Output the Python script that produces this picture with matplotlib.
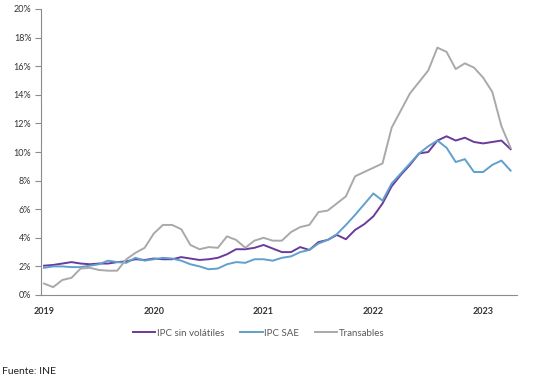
import matplotlib
matplotlib.use("Agg")
import matplotlib.pyplot as plt
from matplotlib.ticker import FuncFormatter

# Monthly data, Jan 2019 .. Apr 2023 (annual % change)
months = list(range(52))
year_ticks = [0, 12, 24, 36, 48]
year_labels = ["2019", "2020", "2021", "2022", "2023"]

ipc_sin_volatiles = [
    2.05, 2.1, 2.2, 2.3, 2.2, 2.15, 2.2, 2.2, 2.3, 2.35, 2.5, 2.45,
    2.55, 2.5, 2.5, 2.65, 2.55, 2.45, 2.5, 2.6, 2.85, 3.2, 3.2, 3.3,
    3.5, 3.25, 3.0, 3.0, 3.35, 3.15, 3.7, 3.85, 4.2, 3.9, 4.55, 4.95,
    5.5, 6.4, 7.6, 8.4, 9.1, 9.9, 10.0, 10.8, 11.1, 10.8, 11.0, 10.7,
    10.6, 10.7, 10.8, 10.2]

ipc_sae = [
    1.9, 2.0, 2.0, 1.95, 1.95, 2.05, 2.15, 2.4, 2.3, 2.25, 2.6, 2.4,
    2.5, 2.6, 2.55, 2.4, 2.15, 2.0, 1.8, 1.85, 2.15, 2.3, 2.25, 2.5,
    2.5, 2.4, 2.6, 2.7, 3.0, 3.15, 3.6, 3.85, 4.25, 4.9, 5.6, 6.35,
    7.1, 6.6, 7.8, 8.5, 9.2, 9.9, 10.4, 10.8, 10.3, 9.3, 9.5, 8.6,
    8.6, 9.1, 9.4, 8.7]

transables = [
    0.8, 0.55, 1.05, 1.2, 1.85, 1.9, 1.75, 1.7, 1.7, 2.5, 2.95, 3.3,
    4.3, 4.9, 4.9, 4.6, 3.5, 3.2, 3.35, 3.3, 4.1, 3.85, 3.3, 3.8,
    4.0, 3.8, 3.8, 4.4, 4.75, 4.9, 5.8, 5.9, 6.4, 6.9, 8.3, 8.6,
    8.9, 9.2, 11.7, 12.9, 14.1, 14.9, 15.7, 17.3, 17.0, 15.8, 16.2, 15.9,
    15.2, 14.2, 11.8, 10.3]

series_names = ["IPC sin volátiles", "IPC SAE", "Transables"]
colors = ["#6A3A9C", "#5FA0CC", "#A9A9A9"]

plt.rcParams['font.family'] = ['Lato', 'DejaVu Sans']

fig = plt.figure(figsize=(5.36, 3.82), dpi=100)
ax = fig.add_axes([41/536, 1 - 295/382, (517 - 41)/536, (295 - 9)/382])

for data, name, col in zip([ipc_sin_volatiles, ipc_sae, transables], series_names, colors):
    ax.plot(months, data, color=col, lw=1.4, label=name, solid_joinstyle='round')

ax.set_xlim(-0.33, 51.7)
ax.set_ylim(0, 20)
ax.set_yticks(range(0, 21, 2))
ax.yaxis.set_major_formatter(FuncFormatter(lambda v, p: f"{int(v)}%"))
ax.set_xticks(year_ticks)
ax.set_xticklabels(year_labels, fontweight='bold')

for s in ["top", "right"]:
    ax.spines[s].set_visible(False)
for s in ["left", "bottom"]:
    ax.spines[s].set_color("#8C8C8C")
    ax.spines[s].set_linewidth(0.8)

ax.tick_params(axis='y', length=4, width=0.8, color="#8C8C8C", labelsize=6.5, pad=3, labelcolor="#333333")
ax.tick_params(axis='x', length=0, labelsize=6.5, pad=9, labelcolor="#333333")

fig.legend(loc='center', bbox_to_anchor=(0.483, 1 - 333/382), ncol=3, frameon=False,
           fontsize=7, handlelength=2.3, handletextpad=0.2, columnspacing=1.6,
           labelcolor="#595959")

fig.text(2/536, 1 - 372/382, "Fuente: INE", fontsize=7.5, va='center', ha='left', color="#222222")

fig.savefig("out.png", dpi=100)
